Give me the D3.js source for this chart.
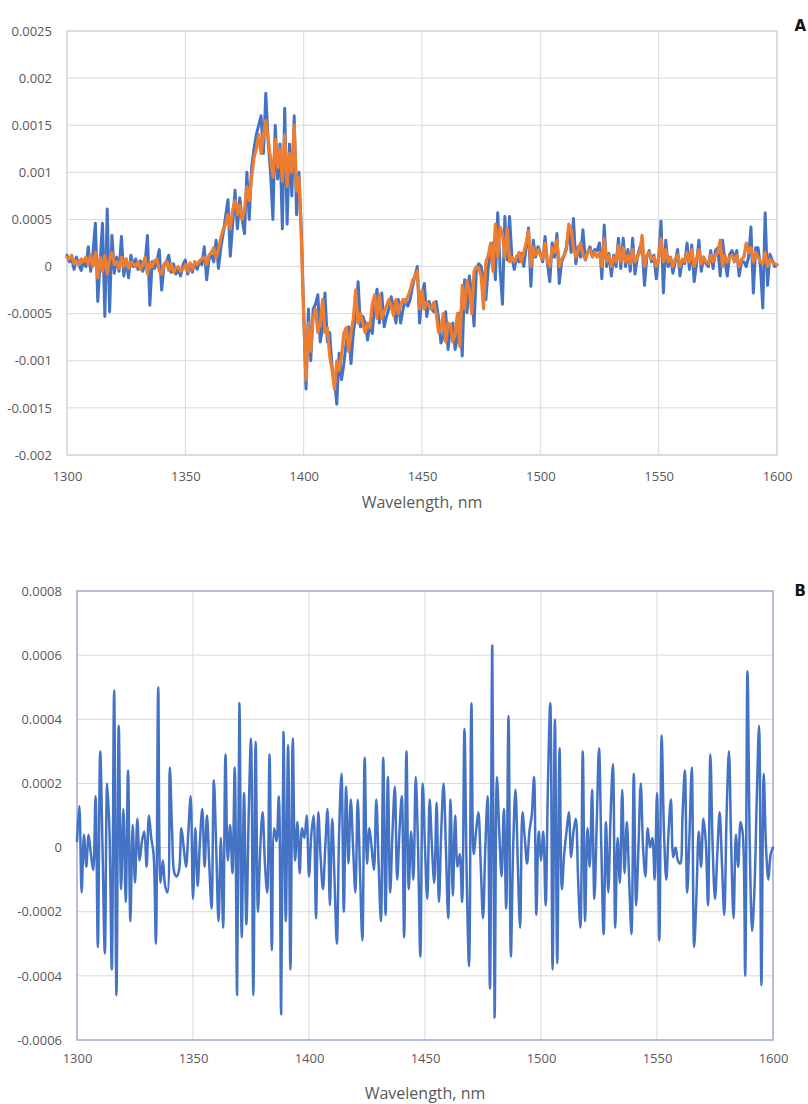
<!DOCTYPE html>
<html>
<head>
<meta charset="utf-8">
<script src="https://cdn.jsdelivr.net/npm/d3@7"></script>
<style>
  body { margin: 0; background: #ffffff; }
  svg { display: block; font-family: "Open Sans", sans-serif; }
</style>
</head>
<body>
<svg id="chart" width="808" height="1104"></svg>
<script>
// Sampling grid: one point per nanometre, 1300–1600 nm
const wavelengths = d3.range(1300, 1601);

// All series values are stored in units of 1e-5
const UNIT = 1e-5;

// Panel A – first spectrum (blue)
const spectrumA1 = [
  12, 5, 8, -3, 10, 2, -4, 6, 0, 21,
  -5, 15, 46, -37, 5, 46, -53, 61, -48, 33,
  -7, 10, -5, 32, -10, 8, -12, 12, 0, 8,
  -3, 6, -5, 4, 33, -41, 5, -2, 6, 18,
  -25, 2, 5, 12, -6, 3, -8, -3, -10, 2,
  7, -8, 2, -6, 5, -3, 6, 2, 21, -14,
  8, 12, 5, 28, -2, 20, 35, 53, 71, 11,
  45, 81, 40, 73, 50, 35, 100, 50, 105, 125,
  140, 150, 160, 120, 184, 132, 100, 50, 150, 93,
  130, 40, 168, 45, 130, 75, 160, 55, 100, 40,
  -50, -130, -45, -100, -45, -40, -30, -80, -65, -28,
  -80, -70, -107, -120, -146, -92, -120, -103, -80, -64,
  -103, -70, -53, -16, -64, -53, -60, -78, -60, -71,
  -40, -24, -60, -28, -64, -53, -45, -32, -45, -60,
  -35, -60, -45, -35, -42, -35, -21, -10, 0, -60,
  -30, -18, -53, -37, -45, -48, -37, -55, -81, -74,
  -48, -88, -65, -60, -88, -74, -49, -95, -14, -49,
  -10, -30, -63, -2, 3, 0, -14, -35, 0, 14,
  25, -14, 57, -3, -40, 53, 7, 53, 10, -3,
  11, 5, 14, 0, 20, 41, -21, 28, 10, 21,
  14, 5, 32, 3, -16, 25, 10, 35, -18, 5,
  11, 21, 39, 15, 51, 3, 21, 10, 39, 7,
  15, 21, 11, 18, 17, 25, -13, 44, 0, 14,
  -10, 12, 0, 30, -2, 30, 0, 18, -5, 30,
  -8, 10, 20, 25, -20, 10, 17, 5, 12, -13,
  10, 48, -28, 28, 0, 10, -7, 5, 18, -10,
  7, 3, 25, -3, 23, -16, 3, 28, -5, 10,
  3, 0, 17, -2, 17, 20, -10, 28, 5, -10,
  13, 17, 8, 17, -10, 5, 5, 0, 10, 42,
  -28, 20, 20, 0, -44, 57, -20, 13, 7, 0,
  2
];

// Panel A – second spectrum (orange)
const spectrumA2 = [
  10, 8, 12, 3, 6, 2, 8, 5, 10, 2,
  12, 0, 15, -12, 10, -5, 12, -8, 8, 15,
  2, 5, -2, 10, 0, 8, -2, 5, 3, 0,
  5, -3, 2, 10, -8, 4, 0, 6, 8, -5,
  -8, 2, 6, -4, 3, -6, -2, 0, -5, -3,
  2, -5, 4, -3, 5, 2, 6, 8, 10, 2,
  12, 15, 20, 10, 18, 30, 40, 45, 55, 40,
  60, 70, 55, 65, 50, 60, 85, 70, 95, 115,
  125, 140, 120, 140, 155, 135, 115, 95, 135, 105,
  125, 90, 140, 85, 120, 100, 150, 80, 95, 30,
  -50, -120, -60, -90, -55, -45, -70, -60, -35, -70,
  -65, -95, -110, -130, -100, -110, -95, -70, -65, -90,
  -70, -55, -25, -60, -50, -60, -70, -60, -65, -40,
  -30, -55, -30, -55, -48, -42, -35, -42, -52, -35,
  -50, -40, -35, -38, -32, -25, -15, -10, -5, -45,
  -25, -45, -38, -42, -45, -38, -50, -70, -68, -50,
  -80, -60, -62, -80, -70, -50, -85, -20, -45, -15,
  -25, -50, -5, 0, -2, -10, -45, 5, 12, 25,
  -5, 45, 10, 42, 35, 10, 40, 5, 10, 5,
  10, 15, 5, 15, 25, 38, 0, 20, 12, 18,
  12, 8, 25, 5, 0, 20, 15, 28, 0, 8,
  12, 18, 45, 40, 20, 10, 18, 25, 12, 8,
  15, 18, 10, 15, 10, 15, 0, 30, 5, 12,
  0, 10, 5, 22, 5, 20, 5, 12, 3, 18,
  5, 10, 15, 33, 0, 12, 15, 8, 10, 0,
  10, 30, 5, 18, 5, 10, 0, 8, 12, 0,
  8, 5, 15, 5, 18, 0, 8, 18, 3, 10,
  5, 3, 12, 5, 12, 15, 28, 0, 12, 5,
  10, 12, 5, 12, 0, 8, 10, 25, 15, 20,
  5, 15, 10, 5, 3, 15, 0, 8, 5, 3,
  2
];

// Panel B – difference spectrum (blue)
const spectrumB = [
  2, 13, -14, 4, -6, 4, -2, -7, 16, -31,
  30, 0, -33, 20, 5, -38, 49, -46, 38, -13,
  12, -17, 24, -23, 7, -11, 9, -4, 2, 5,
  -6, 10, 3, -2, -30, 50, -11, -4, -12, -14,
  25, 5, -8, -9, -7, 6, 0, -6, 5, 16,
  -16, 6, -12, 2, 12, -6, 10, -5, -19, 21,
  0, -23, 3, -25, 29, -4, 7, -8, 25, -46,
  45, -28, 17, -24, 10, 34, -46, 33, -20, 0,
  11, -5, -14, 29, -32, 6, 2, 16, -52, 36,
  -23, 32, -38, 34, -4, 8, -8, 6, 3, 10,
  -9, 4, 10, -22, 11, -3, -13, 0, 12, -18,
  9, -10, -30, 5, 23, -20, 19, -5, 15, 0,
  -14, 15, -8, -29, 28, -5, 6, 0, -7, 15,
  -5, -23, 28, -21, 22, -14, 5, 19, -10, 5,
  16, -28, 30, -13, 5, -10, 22, 0, -34, 20,
  0, -16, 15, 0, -11, 14, -17, 5, 20, 0,
  -22, 15, -15, 10, -6, -2, -17, 37, -10, -37,
  45, -2, 5, 11, -5, -22, 0, 16, -44, 63,
  -53, 22, 5, -9, 12, -19, 41, -34, 0, 18,
  -5, -25, 11, 3, -5, 5, 10, 22, -21, 5,
  -4, 5, -18, 20, 45, -38, 40, -36, 31, -13,
  -2, 5, 11, -3, 5, 9, -10, -25, 30, -23,
  6, -6, 18, -16, 7, 31, 0, -27, 8, -14,
  10, 26, -25, 3, -11, 18, -8, 8, -10, -27,
  23, -18, 0, 20, 0, -9, 6, 0, 3, -10,
  17, -29, 35, 5, -10, 5, 15, -3, 0, -4,
  -5, 10, 24, -14, 4, 25, -31, -15, 5, -6,
  9, 2, -18, 29, 0, -16, -2, 11, -5, -21,
  10, 30, 0, -22, 4, -6, 8, 4, -40, 55,
  0, -26, -13, 15, 38, -43, 23, 0, -10, -2,
  0
];

// Axis ticks and their printed labels
const xTicks = [1300, 1350, 1400, 1450, 1500, 1550, 1600];
const yTicksA = [-0.002, -0.0015, -0.001, -0.0005, 0, 0.0005, 0.001, 0.0015, 0.002, 0.0025];
const yLabelsA = ["-0.002", "-0.0015", "-0.001", "-0.0005", "0", "0.0005", "0.001", "0.0015", "0.002", "0.0025"];
const yTicksB = [-0.0006, -0.0004, -0.0002, 0, 0.0002, 0.0004, 0.0006, 0.0008];
const yLabelsB = ["-0.0006", "-0.0004", "-0.0002", "0", "0.0002", "0.0004", "0.0006", "0.0008"];
const xTitle = "Wavelength, nm";

const BLUE = "#4472c4";
const ORANGE = "#ed7d31";
const GRID = "#d9d9d9";
const TEXT = "#595959";

const svg = d3.select("#chart");

function drawPanel(cfg) {
  const g = svg.append("g");
  const x = d3.scaleLinear().domain([1300, 1600]).range([cfg.left, cfg.right]);
  const y = d3.scaleLinear().domain([cfg.yTicks[0], cfg.yTicks[cfg.yTicks.length - 1]])
    .range([cfg.bottom, cfg.top]);

  // horizontal gridlines
  g.append("g").selectAll("line").data(cfg.yTicks).join("line")
    .attr("x1", cfg.left).attr("x2", cfg.right)
    .attr("y1", d => y(d)).attr("y2", d => y(d))
    .attr("stroke", GRID).attr("stroke-width", 1);

  // vertical gridlines
  g.append("g").selectAll("line").data(xTicks).join("line")
    .attr("x1", d => x(d)).attr("x2", d => x(d))
    .attr("y1", cfg.top).attr("y2", cfg.bottom)
    .attr("stroke", GRID).attr("stroke-width", 1);

  // plot-area frame
  g.append("rect")
    .attr("x", cfg.left).attr("y", cfg.top)
    .attr("width", cfg.right - cfg.left).attr("height", cfg.bottom - cfg.top)
    .attr("fill", "none").attr("stroke", cfg.frame).attr("stroke-width", cfg.frameWidth);

  // y axis labels
  const yAxis = d3.axisLeft(y).tickValues(cfg.yTicks)
    .tickFormat((d, i) => cfg.yLabels[i]).tickSize(0).tickPadding(cfg.yPad);
  const ya = g.append("g").attr("transform", `translate(${cfg.left},0)`).call(yAxis);
  ya.select(".domain").remove();
  ya.selectAll("text").attr("fill", TEXT).style("font-size", "13px")
    .style("font-family", '"Open Sans", sans-serif');

  // x axis labels
  const xAxis = d3.axisBottom(x).tickValues(xTicks).tickFormat(d => String(d))
    .tickSize(0).tickPadding(cfg.xPad);
  const xa = g.append("g").attr("transform", `translate(0,${cfg.bottom})`).call(xAxis);
  xa.select(".domain").remove();
  xa.selectAll("text").attr("fill", TEXT).style("font-size", "13px")
    .style("font-family", '"Open Sans", sans-serif');

  // series
  const line = d3.line()
    .x((d, i) => x(wavelengths[i]))
    .y(d => y(d * UNIT))
    .curve(cfg.curve);
  cfg.series.forEach(s => {
    g.append("path").datum(s.values)
      .attr("d", line)
      .attr("fill", "none")
      .attr("stroke", s.color)
      .attr("stroke-width", s.width)
      .attr("stroke-linejoin", "round")
      .attr("stroke-linecap", "round");
  });

  // axis title
  g.append("text")
    .attr("x", (cfg.left + cfg.right) / 2).attr("y", cfg.titleY)
    .attr("text-anchor", "middle").attr("dominant-baseline", "central")
    .attr("fill", TEXT).style("font-size", "16px")
    .text(xTitle);

  // panel letter
  g.append("text")
    .attr("x", 806).attr("y", cfg.letterY)
    .attr("text-anchor", "end")
    .attr("fill", "#111")
    .style("font-family", '"DejaVu Sans", sans-serif')
    .style("font-weight", "bold").style("font-size", "15px")
    .text(cfg.letter);
}

drawPanel({
  left: 67, right: 777, top: 31, bottom: 455,
  yTicks: yTicksA, yLabels: yLabelsA,
  yPad: 15, xPad: 17,
  frame: "#ccd2e2", frameWidth: 1.2,
  curve: d3.curveLinear,
  series: [
    { values: spectrumA1, color: BLUE, width: 3 },
    { values: spectrumA2, color: ORANGE, width: 3.2 }
  ],
  titleY: 502, letter: "A", letterY: 31
});

drawPanel({
  left: 77, right: 773, top: 591, bottom: 1040,
  yTicks: yTicksB, yLabels: yLabelsB,
  yPad: 15, xPad: 14,
  frame: "#a3afdc", frameWidth: 1.5,
  curve: d3.curveCatmullRom.alpha(0.5),
  series: [
    { values: spectrumB, color: BLUE, width: 2.5 }
  ],
  titleY: 1093, letter: "B", letterY: 596
});
</script>
</body>
</html>
